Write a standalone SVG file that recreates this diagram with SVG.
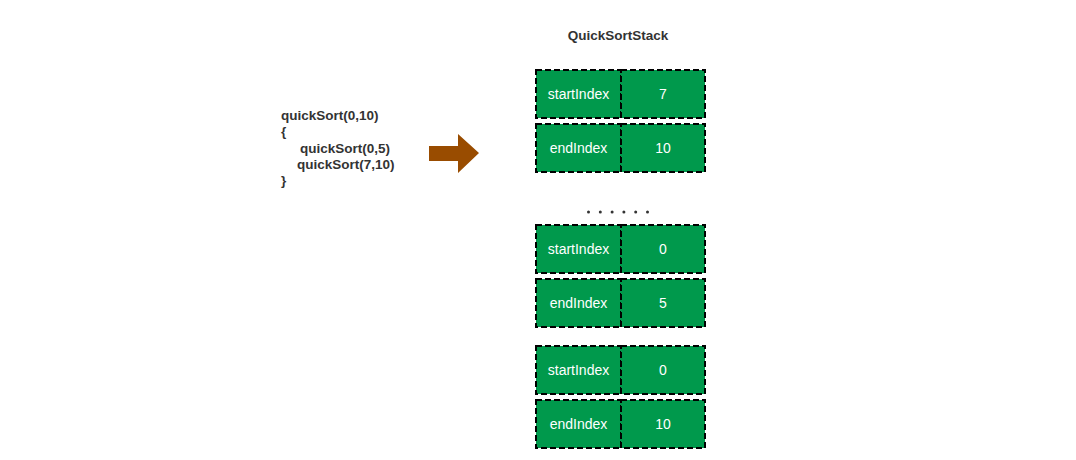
<svg xmlns="http://www.w3.org/2000/svg" width="1076" height="460" viewBox="0 0 1076 460">
<style>
.cell{fill:#00994c;stroke:#000;stroke-width:2;stroke-dasharray:6 3}
.lbl{font-family:"Liberation Sans",Arial,sans-serif;font-size:14px;fill:#fff;text-anchor:middle}
.code{font-family:"Liberation Sans",Arial,sans-serif;font-size:13.5px;font-weight:bold;fill:#333}
</style>
<rect width="1076" height="460" fill="#fff"/>
<g id="code">
<text class="code" x="281" y="120">quickSort(0,10)</text>
<text class="code" x="281" y="136">{</text>
<text class="code" x="300" y="153">quickSort(0,5)</text>
<text class="code" x="297" y="169">quickSort(7,10)</text>
<text class="code" x="281" y="185">}</text>
</g>
<g id="connectors">
<polygon points="429,146 458,146 458,134 479,153 458,173 458,161 429,161" fill="#994c00"/>
</g>
<g id="title">
<text class="code" x="618" y="40" text-anchor="middle" font-size="13">QuickSortStack</text>
</g>
<g id="frame1">
<rect class="cell" x="536" y="70" width="85" height="48"/>
<rect class="cell" x="621" y="70" width="84" height="48"/>
<text class="lbl" x="578.5" y="99">startIndex</text>
<text class="lbl" x="663" y="99">7</text>
<rect class="cell" x="536" y="124" width="85" height="48"/>
<rect class="cell" x="621" y="124" width="84" height="48"/>
<text class="lbl" x="578.5" y="153">endIndex</text>
<text class="lbl" x="663" y="153">10</text>
</g>
<g id="dots" fill="#333">
<circle cx="588.5" cy="212" r="1.5"/>
<circle cx="600.3" cy="212" r="1.5"/>
<circle cx="612.1" cy="212" r="1.5"/>
<circle cx="623.9" cy="212" r="1.5"/>
<circle cx="635.7" cy="212" r="1.5"/>
<circle cx="647.5" cy="212" r="1.5"/>
</g>
<g id="frame2">
<rect class="cell" x="536" y="225" width="85" height="48"/>
<rect class="cell" x="621" y="225" width="84" height="48"/>
<text class="lbl" x="578.5" y="254">startIndex</text>
<text class="lbl" x="663" y="254">0</text>
<rect class="cell" x="536" y="279" width="85" height="48"/>
<rect class="cell" x="621" y="279" width="84" height="48"/>
<text class="lbl" x="578.5" y="308">endIndex</text>
<text class="lbl" x="663" y="308">5</text>
</g>
<g id="frame3">
<rect class="cell" x="536" y="346" width="85" height="48"/>
<rect class="cell" x="621" y="346" width="84" height="48"/>
<text class="lbl" x="578.5" y="375">startIndex</text>
<text class="lbl" x="663" y="375">0</text>
<rect class="cell" x="536" y="400" width="85" height="48"/>
<rect class="cell" x="621" y="400" width="84" height="48"/>
<text class="lbl" x="578.5" y="429">endIndex</text>
<text class="lbl" x="663" y="429">10</text>
</g>
</svg>
